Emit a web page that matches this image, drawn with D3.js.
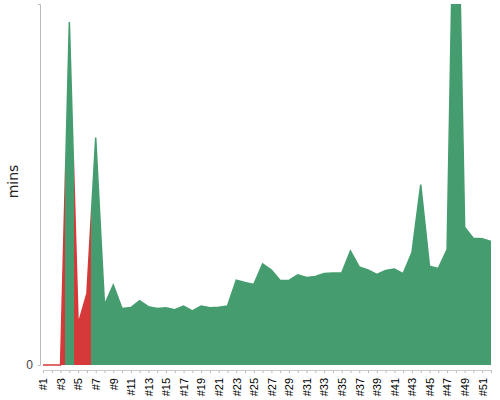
<!DOCTYPE html>
<html>
<head>
<meta charset="utf-8">
<script src="https://cdn.jsdelivr.net/npm/d3@7"></script>
<style>
  body { margin: 0; background: #fff; }
  svg { display: block; font-family: "DejaVu Sans", sans-serif; }
</style>
</head>
<body>
<svg id="chart" width="500" height="400"></svg>
<script>
// Chart data
const labels = d3.range(1, 53).map(i => "#" + i);
const minutes = [
    0, 0, 0, 57, 6.8, 11.9, 37.8, 10, 13.3, 9.4,
    9.55, 10.7, 9.7, 9.4, 9.5, 9.2, 9.8, 9, 9.8, 9.5,
    9.6, 9.8, 14.1, 13.7, 13.4, 16.8, 15.8, 14.05, 14.05, 15,
    14.55, 14.7, 15.2, 15.3, 15.3, 18.95, 16.3, 15.8, 15.05, 15.7,
    15.95, 15.2, 18.7, 30, 16.4, 16.05, 19.2, 99, 22.9, 21.05,
    21, 20.55
];
// status per point: true = ok (green), false = failed (red)
const ok = [
    false, false, false, true, false, false, true, true, true, true,
    true, true, true, true, true, true, true, true, true, true,
    true, true, true, true, true, true, true, true, true, true,
    true, true, true, true, true, true, true, true, true, true,
    true, true, true, true, true, true, true, true, true, true,
    true, true
];
const yMax = 60;
const yTicks = [0];

const data = labels.map((l, i) => ({ label: l, value: minutes[i], ok: ok[i] }));

const svg = d3.select("#chart");
const margin = { top: 4, right: 9, bottom: 35, left: 43 };
const width = +svg.attr("width");
const height = +svg.attr("height");
const innerW = width - margin.left - margin.right;
const innerH = height - margin.top - margin.bottom;

const x = d3.scalePoint()
    .domain(labels)
    .range([0, innerW]);

const y = d3.scaleLinear()
    .domain([0, yMax])
    .range([innerH, 0]);

const green = "#459d6f";
const red = "#d6393a";

// hard-stop gradient: colour changes halfway between points
const defs = svg.append("defs");
const grad = defs.append("linearGradient")
    .attr("id", "statusGrad")
    .attr("gradientUnits", "userSpaceOnUse")
    .attr("x1", 0).attr("x2", innerW)
    .attr("y1", 0).attr("y2", 0);

const step = x.step();
data.forEach((d, i) => {
    const c = d.ok ? green : red;
    const start = i === 0 ? 0 : (x(d.label) - step / 2) / innerW;
    const end = i === data.length - 1 ? 1 : (x(d.label) + step / 2) / innerW;
    grad.append("stop").attr("offset", start).attr("stop-color", c);
    grad.append("stop").attr("offset", end).attr("stop-color", c);
});

defs.append("clipPath")
    .attr("id", "plotClip")
    .append("rect")
    .attr("x", -2).attr("y", 0)
    .attr("width", innerW + 4).attr("height", innerH + 2);

const g = svg.append("g")
    .attr("transform", `translate(${margin.left},${margin.top})`);

const plot = g.append("g").attr("clip-path", "url(#plotClip)");

plot.append("path")
    .datum(data)
    .attr("fill", "url(#statusGrad)")
    .attr("d", d3.area()
        .x(d => x(d.label))
        .y0(y(0))
        .y1(d => y(d.value)));

plot.append("path")
    .datum(data)
    .attr("fill", "none")
    .attr("stroke", "url(#statusGrad)")
    .attr("stroke-width", 1.5)
    .attr("d", d3.line()
        .x(d => x(d.label))
        .y(d => y(d.value)));

// x axis, a little below the baseline
const xAxis = g.append("g")
    .attr("transform", `translate(0,${innerH + 5})`)
    .call(d3.axisBottom(x)
        .tickSize(3)
        .tickFormat((d, i) => i % 2 === 0 ? d : ""));

xAxis.select(".domain").attr("stroke", "#ccc");
xAxis.selectAll(".tick line").attr("stroke", "#bbb");
xAxis.selectAll(".tick text")
    .attr("transform", "rotate(-90)")
    .attr("text-anchor", "end")
    .attr("x", -8)
    .attr("y", 0)
    .attr("dy", "0.35em")
    .attr("fill", "#000")
    .attr("font-size", "11px");

// y axis
const yAxis = g.append("g")
    .attr("transform", "translate(-3,0)")
    .call(d3.axisLeft(y).tickValues(yTicks).tickSize(2).tickPadding(5));

yAxis.select(".domain").attr("stroke", "#bbb");
yAxis.selectAll(".tick line").attr("stroke", "#bbb");
yAxis.selectAll(".tick text")
    .attr("fill", "#444")
    .attr("font-size", "12px");

svg.append("text")
    .attr("transform", `translate(18,${margin.top + innerH / 2 - 3}) rotate(-90)`)
    .attr("text-anchor", "middle")
    .attr("fill", "#222")
    .attr("font-size", "14px")
    .text("mins");
</script>
</body>
</html>
